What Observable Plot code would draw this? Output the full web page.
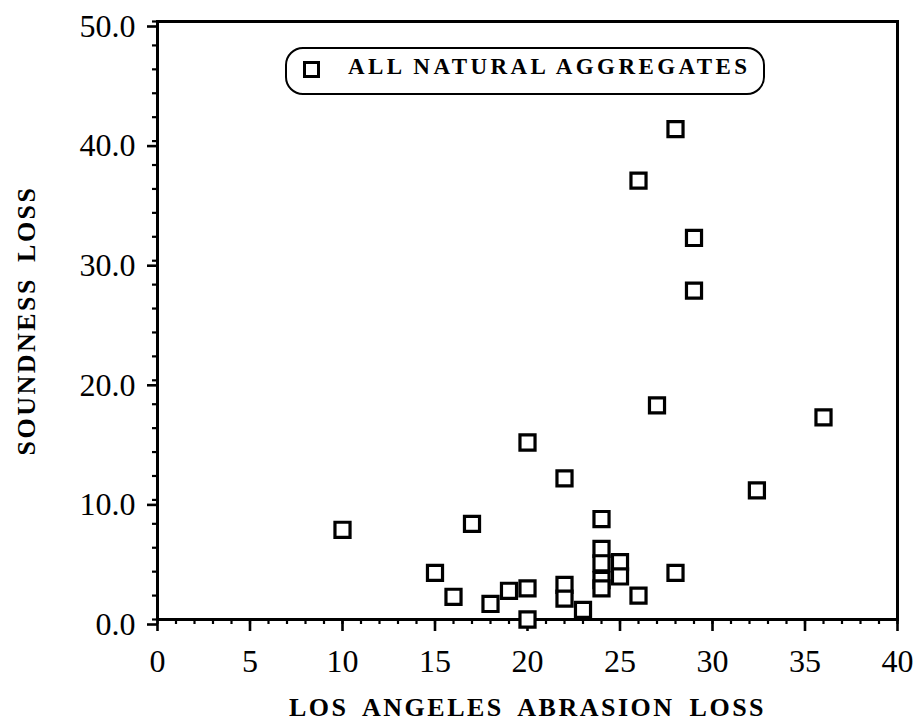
<!DOCTYPE html>
<html>
<head>
<meta charset="utf-8">
<script src="https://cdn.jsdelivr.net/npm/d3@7"></script>
<script src="https://cdn.jsdelivr.net/npm/@observablehq/plot@0.6"></script>
<style>
  body { margin: 0; background: #fff; }
  #chart { position: relative; width: 919px; height: 724px; }
  #chart svg { display: block; }
  .legend {
    position: absolute; left: 285px; top: 47px; width: 480px; height: 48px;
    box-sizing: border-box; border: 2.5px solid #000; border-radius: 18px;
    display: flex; align-items: center;
    font-family: "Liberation Serif", serif; font-weight: bold; font-size: 23px;
    letter-spacing: 3.4px; color: #000;
  }
  .legend .swatch {
    display: inline-block; width: 11px; height: 11px; border: 3.2px solid #000;
    margin-left: 16px; margin-right: 28px; position: relative; top: -2px;
  }
  .legend .label { position: relative; top: -4px; }
</style>
</head>
<body>
<div id="chart"></div>
<script>
// Los Angeles abrasion loss vs. soundness loss, natural aggregates
const abrasion  = [10, 15, 16, 17, 18, 19, 20, 20, 20, 22, 22, 22, 23, 24, 24, 24, 24, 24, 25, 25, 26, 26, 27, 28, 28, 29, 29, 32.4, 36];
const soundness = [7.5, 3.9, 1.9, 8.0, 1.3, 2.4, 14.8, 2.6, 0.0, 11.8, 2.9, 1.75, 0.8, 8.4, 5.9, 4.7, 3.3, 2.6, 4.8, 3.6, 36.7, 2.0, 17.9, 41.0, 3.9, 31.9, 27.5, 10.8, 16.9];

const xMajorTicks = [0, 5, 10, 15, 20, 25, 30, 35, 40];
const xMinorTicks = d3.range(0, 41, 1);
const yMajorTicks = [0, 10, 20, 30, 40, 50];
const yMinorTicks = d3.range(0, 51, 2);

const xTitle = "LOS ANGELES ABRASION LOSS";
const yTitle = "SOUNDNESS LOSS";
const legendLabel = "ALL NATURAL AGGREGATES";

const points = abrasion.map((a, i) => ({abrasion: a, soundness: soundness[i]}));

const serif = '"Liberation Serif", "Times New Roman", serif';

const chart = Plot.plot({
  width: 919,
  height: 724,
  marginLeft: 157,
  marginRight: 22,
  marginTop: 21,
  marginBottom: 105,
  x: {domain: [0, 40], label: null},
  y: {domain: [0, 50], label: null},
  style: {fontFamily: serif, color: "#000", background: "#fff"},
  marks: [
    Plot.frame({stroke: "#000", strokeWidth: 3}),
    Plot.axisX(xMinorTicks, {tickSize: 5, strokeWidth: 2.2, fill: "none", label: null}),
    Plot.axisX(xMajorTicks, {tickSize: 12, strokeWidth: 2.6, tickPadding: 18, fontSize: 32, label: null, tickFormat: d => String(d)}),
    Plot.axisY(yMinorTicks, {tickSize: 5, strokeWidth: 2.2, fill: "none", label: null}),
    Plot.axisY(yMajorTicks, {tickSize: 10, strokeWidth: 2.6, tickPadding: 12, fontSize: 32, dy: 5, label: null, tickFormat: d => d.toFixed(1)}),
    Plot.dot(points, {x: "abrasion", y: "soundness", symbol: "square", r: 8.5, stroke: "#000", strokeWidth: 3.2, fill: "#fff"}),
    Plot.text([xTitle], {frameAnchor: "bottom", dy: 88, textAnchor: "middle", lineAnchor: "middle", fontSize: 26, fontWeight: "bold", fontFamily: serif, fill: "#000"}),
    Plot.text([yTitle], {frameAnchor: "left", dx: -131, rotate: -90, textAnchor: "middle", lineAnchor: "middle", fontSize: 26, fontWeight: "bold", fontFamily: serif, fill: "#000"})
  ]
});

// spaced-out lettering for the axis titles
d3.select(chart).selectAll("text")
  .filter(function() { return this.textContent === xTitle || this.textContent === yTitle; })
  .style("letter-spacing", "2.5px")
  .style("word-spacing", "6px");

const root = document.getElementById("chart");
root.appendChild(chart);

const legend = document.createElement("div");
legend.className = "legend";
legend.innerHTML = '<span class="swatch"></span><span class="label"></span>';
legend.querySelector(".label").textContent = legendLabel;
root.appendChild(legend);
</script>
</body>
</html>
